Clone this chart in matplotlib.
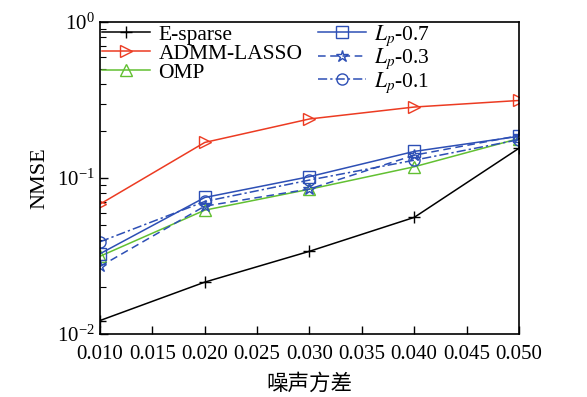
import numpy as np
import matplotlib
import matplotlib.pyplot as plt

matplotlib.use('Agg')

# 噪声方差
noise_var = [0.010, 0.020, 0.030, 0.040, 0.050]

# NMSE 各算法
e_sparse = [0.0122, 0.0215, 0.0339, 0.0559, 0.155]
admm_lasso = [0.068, 0.169, 0.239, 0.285, 0.314]
omp = [0.0315, 0.0622, 0.0847, 0.118, 0.179]
lp_07 = [0.0327, 0.075, 0.102, 0.148, 0.185]
lp_03 = [0.0271, 0.066, 0.085, 0.140, 0.187]
lp_01 = [0.039, 0.0707, 0.097, 0.130, 0.176]

x_ticks = [0.010, 0.015, 0.020, 0.025, 0.030, 0.035, 0.040, 0.045, 0.050]


def dibujar():
    plt.rcParams['font.family'] = ['Liberation Serif', 'DejaVu Serif']
    plt.rcParams['mathtext.fontset'] = 'stix'

    fig = plt.figure(figsize=(5.87, 3.97), dpi=100)
    ax = fig.add_axes([0.1704, 0.1587, 0.7136, 0.7859])

    azul = '#2d4fb5'
    ax.plot(noise_var, e_sparse, color='black', marker='+', markersize=9,
            linewidth=1.1, label='E-sparse')
    ax.plot(noise_var, admm_lasso, color='#ec3b22', marker='>', markersize=9,
            markerfacecolor='none', linewidth=1.1, label='ADMM-LASSO')
    ax.plot(noise_var, omp, color='#62c032', marker='^', markersize=9,
            markerfacecolor='none', linewidth=1.1, label='OMP')
    ax.plot(noise_var, lp_07, color=azul, marker='s', markersize=8,
            markerfacecolor='none', linewidth=1.1, label='$L_p$-0.7')
    ax.plot(noise_var, lp_03, color=azul, marker='*', markersize=9,
            markerfacecolor='none', linestyle=(0, (5, 3)), linewidth=1.1,
            label='$L_p$-0.3')
    ax.plot(noise_var, lp_01, color=azul, marker='o', markersize=8,
            markerfacecolor='none', linestyle=(0, (6, 2, 1.5, 2)), linewidth=1.1,
            label='$L_p$-0.1')

    ax.set_yscale('log')
    ax.set_ylim(1e-2, 1)
    ax.set_xlim(0.010, 0.050)
    ax.set_xticks(x_ticks)
    ax.set_xticklabels(['%.3f' % t for t in x_ticks])

    ax.tick_params(axis='both', which='both', direction='in', labelsize=15,
                   top=False, right=False)
    ax.tick_params(axis='both', which='major', length=6, width=1)
    ax.tick_params(axis='y', which='minor', length=4, width=0.8)
    ax.tick_params(axis='x', pad=8)
    for s in ax.spines.values():
        s.set_linewidth(1.2)

    ax.set_ylabel('NMSE', fontsize=16, labelpad=6)
    ax.set_xlabel('噪声方差', fontsize=15.5,
                  family=['Noto Sans CJK SC', 'DejaVu Sans'],
                  fontweight='light', labelpad=6)

    ax.legend(loc='upper left', bbox_to_anchor=(0.003, 0.999), ncol=2,
              frameon=False, fontsize=15.5,
              handlelength=2.2, columnspacing=0.75, labelspacing=-0.05,
              borderaxespad=0.0, borderpad=0.05, handletextpad=0.4)

    fig.savefig('out.png', dpi=100)


if __name__ == '__main__':
    dibujar()
